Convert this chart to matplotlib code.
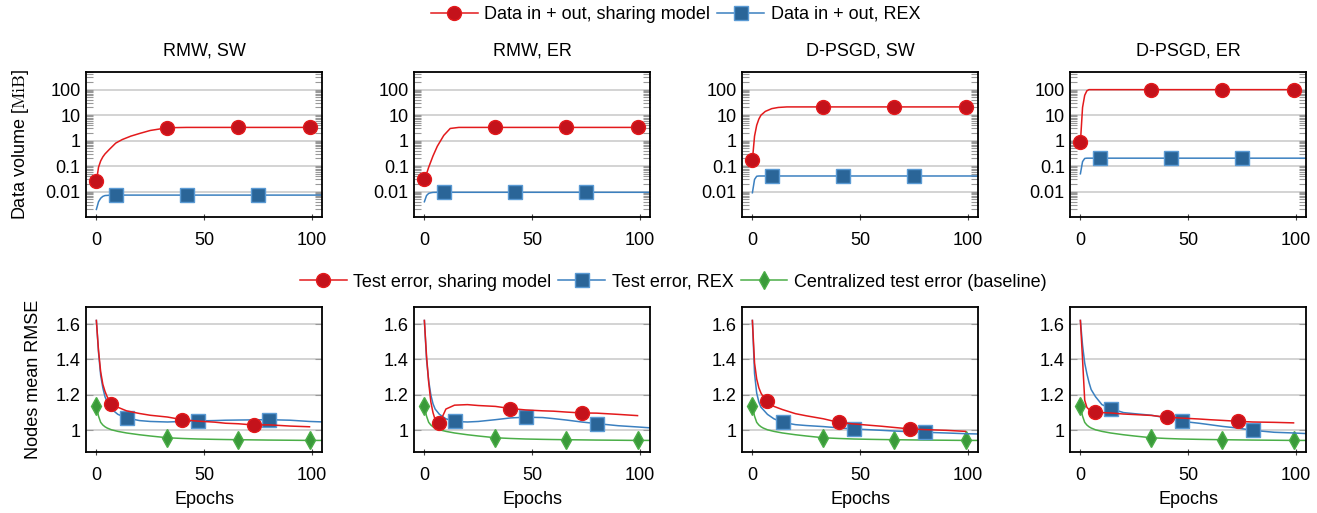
import matplotlib
matplotlib.use("Agg")
import matplotlib.pyplot as plt
from matplotlib.lines import Line2D
from matplotlib.ticker import LogLocator, NullFormatter, FixedLocator

plt.rcParams['font.family'] = ['Liberation Sans', 'DejaVu Sans']
plt.rcParams['mathtext.fontset'] = 'cm'
plt.rcParams['font.size'] = 13

titles = ["RMW, SW", "RMW, ER", "D-PSGD, SW", "D-PSGD, ER"]

# top row: data volume (MiB) per epoch
epochs_top = [0, 1, 2, 3, 4, 6, 9, 12, 16, 20, 25, 33, 42, 50, 66, 75, 99, 106]
vol_share = [
    [0.025, 0.09, 0.16, 0.23, 0.3, 0.45, 0.8, 1.1, 1.5, 1.9, 2.5, 3.2, 3.3, 3.3, 3.3, 3.3, 3.3],
    [0.03, 0.05, 0.09, 0.15, 0.25, 0.6, 1.6, 3.0, 3.3, 3.3, 3.3, 3.3, 3.3, 3.3, 3.3, 3.3, 3.3],
    [0.17, 1.5, 4, 7, 10, 14, 18, 20, 21, 21, 21, 21, 21, 21, 21, 21, 21],
    [0.85, 20, 60, 90, 100, 100, 100, 100, 100, 100, 100, 100, 100, 100, 100, 100, 100],
]
vol_rex = [
    [0.002, 0.004, 0.0055, 0.0065, 0.007, 0.0072, 0.0073, 0.0073, 0.0073, 0.0073, 0.0073, 0.0073,
     0.0073, 0.0073, 0.0073, 0.0073, 0.0073, 0.0073],
    [0.004, 0.007, 0.0085, 0.009, 0.0093, 0.0094, 0.0094, 0.0094, 0.0094, 0.0094, 0.0094, 0.0094,
     0.0094, 0.0094, 0.0094, 0.0094, 0.0094, 0.0094],
    [0.009, 0.03, 0.04, 0.041, 0.041, 0.041, 0.041, 0.041, 0.041, 0.041, 0.041, 0.041,
     0.041, 0.041, 0.041, 0.041, 0.041, 0.041],
    [0.05, 0.15, 0.2, 0.205, 0.205, 0.205, 0.205, 0.205, 0.205, 0.205, 0.205, 0.205,
     0.205, 0.205, 0.205, 0.205, 0.205, 0.205],
]

# bottom row: mean RMSE per epoch
epochs_bot = [0, 1, 2, 3, 4, 5, 7, 10, 14, 20, 25, 33, 40, 47, 55, 60, 66, 73, 80, 90, 99, 106]
err_share = [
    [1.62, 1.45, 1.33, 1.26, 1.22, 1.19, 1.15, 1.13, 1.11, 1.095, 1.085, 1.075, 1.06, 1.052,
     1.046, 1.04, 1.037, 1.03, 1.031, 1.024, 1.02],
    [1.62, 1.42, 1.27, 1.16, 1.10, 1.06, 1.04, 1.12, 1.142, 1.145, 1.14, 1.135, 1.123, 1.115,
     1.11, 1.108, 1.103, 1.098, 1.097, 1.09, 1.083],
    [1.62, 1.38, 1.29, 1.24, 1.21, 1.19, 1.164, 1.135, 1.117, 1.094, 1.082, 1.065, 1.045, 1.036,
     1.028, 1.023, 1.016, 1.008, 1.004, 1.0, 0.994],
    [1.62, 1.40, 1.17, 1.13, 1.117, 1.11, 1.104, 1.10, 1.098, 1.092, 1.089, 1.084, 1.074, 1.069,
     1.064, 1.06, 1.056, 1.051, 1.047, 1.045, 1.042],
]
err_rex = [
    [1.62, 1.44, 1.31, 1.24, 1.19, 1.16, 1.12, 1.09, 1.07, 1.055, 1.05, 1.047, 1.05, 1.053,
     1.055, 1.057, 1.058, 1.059, 1.06, 1.057, 1.05, 1.047],
    [1.62, 1.40, 1.28, 1.20, 1.15, 1.12, 1.09, 1.065, 1.05, 1.047, 1.05, 1.06, 1.07, 1.074,
     1.072, 1.066, 1.058, 1.047, 1.038, 1.026, 1.019, 1.013],
    [1.62, 1.32, 1.21, 1.16, 1.13, 1.117, 1.09, 1.065, 1.045, 1.032, 1.027, 1.021, 1.014, 1.008,
     1.003, 1.0, 0.996, 0.992, 0.989, 0.985, 0.981, 0.979],
    [1.62, 1.48, 1.38, 1.32, 1.27, 1.23, 1.19, 1.145, 1.123, 1.10, 1.094, 1.085, 1.07, 1.051,
     1.04, 1.032, 1.022, 1.013, 1.0, 0.989, 0.985, 0.981],
]
err_base = [1.136, 1.08, 1.045, 1.03, 1.02, 1.013, 1.003, 0.994, 0.985, 0.975, 0.968, 0.958,
            0.954, 0.951, 0.949, 0.948, 0.947, 0.946, 0.945, 0.944, 0.943, 0.943]

red, red_m = "#e31a1c", "#c4121b"
blue, blue_m, blue_e = "#3b80c0", "#2a6598", "#5a9ad4"
green, green_m = "#4bae48", "#3a9a3a"
LW = 1.1


def mark_idx(epochs, marks):
    return [epochs.index(m) for m in marks]


def style_axes(ax):
    ax.set_xlim(-5, 105)
    ax.xaxis.set_major_locator(FixedLocator([0, 50, 100]))
    ax.tick_params(axis='x', direction='inout', length=5, width=0.8, color='#444444',
                   top=False, pad=8)
    ax.tick_params(axis='y', which='both', direction='in', left=True, right=True, color='#999999')
    ax.grid(axis='y', which='major', color='#cccccc', linewidth=1.2)
    ax.set_axisbelow(True)
    for s in ax.spines.values():
        s.set_linewidth(1.3)


fig, axes = plt.subplots(2, 4, figsize=(13.17, 5.13), dpi=100)
fig.subplots_adjust(left=0.065, right=0.992, top=0.86, bottom=0.118, wspace=0.385, hspace=0.62)

for i in range(4):
    ax = axes[0, i]
    n = len(vol_share[i])
    ax.plot(epochs_top[:n], vol_share[i], color=red, lw=LW, marker='o', ms=10,
            mfc=red_m, mec=red, markevery=mark_idx(epochs_top, [0, 33, 66, 99]))
    ax.plot(epochs_top, vol_rex[i], color=blue, lw=LW, marker='s', ms=9.5,
            mfc=blue_m, mec=blue_e, markevery=mark_idx(epochs_top, [9, 42, 75]))
    ax.set_yscale('log')
    ax.set_ylim(1e-3, 5e2)
    ax.yaxis.set_major_locator(FixedLocator([0.01, 0.1, 1, 10, 100]))
    ax.set_yticklabels(["0.01", "0.1", "1", "10", "100"])
    ax.yaxis.set_minor_locator(LogLocator(base=10, subs=range(2, 10), numticks=20))
    ax.yaxis.set_minor_formatter(NullFormatter())
    style_axes(ax)
    ax.tick_params(axis='y', which='major', length=5)
    ax.tick_params(axis='y', which='minor', length=5, width=0.8)
    ax.set_title(titles[i], fontsize=13, pad=12)

    ax = axes[1, i]
    n = len(err_share[i])
    ax.plot(epochs_bot, err_base, color=green, lw=LW, marker='d', ms=9,
            mfc=green_m, mec=green, markevery=mark_idx(epochs_bot, [0, 33, 66, 99]))
    ax.plot(epochs_bot, err_rex[i], color=blue, lw=LW, marker='s', ms=9.5,
            mfc=blue_m, mec=blue_e, markevery=mark_idx(epochs_bot, [14, 47, 80]))
    ax.plot(epochs_bot[:n], err_share[i], color=red, lw=LW, marker='o', ms=10,
            mfc=red_m, mec=red, markevery=mark_idx(epochs_bot, [7, 40, 73]))
    ax.set_ylim(0.875, 1.695)
    ax.yaxis.set_major_locator(FixedLocator([1.0, 1.2, 1.4, 1.6]))
    ax.set_yticklabels(["1", "1.2", "1.4", "1.6"])
    style_axes(ax)
    ax.tick_params(axis='y', which='major', length=5)
    ax.set_xlabel("Epochs", fontsize=13, labelpad=5)

axes[0, 0].set_ylabel(r"Data volume [$\mathrm{MiB}$]", fontsize=13)
axes[0, 0].yaxis.set_label_coords(-0.23, 0.5)
axes[1, 0].set_ylabel("Nodes mean RMSE", fontsize=13)
axes[1, 0].yaxis.set_label_coords(-0.185, 0.5)

top_handles = [
    Line2D([], [], color=red, lw=LW, marker='o', ms=10, mfc=red_m, mec=red),
    Line2D([], [], color=blue, lw=LW, marker='s', ms=9.5, mfc=blue_m, mec=blue_e),
]
fig.legend(top_handles, ["Data in + out, sharing model", "Data in + out, REX"],
           loc='center', bbox_to_anchor=(0.513, 0.972), ncol=2, frameon=False,
           fontsize=13, handlelength=2.6, columnspacing=0.4, handletextpad=0.35)

bot_handles = [
    Line2D([], [], color=red, lw=LW, marker='o', ms=10, mfc=red_m, mec=red),
    Line2D([], [], color=blue, lw=LW, marker='s', ms=9.5, mfc=blue_m, mec=blue_e),
    Line2D([], [], color=green, lw=LW, marker='d', ms=9, mfc=green_m, mec=green),
]
fig.legend(bot_handles, ["Test error, sharing model", "Test error, REX",
                         "Centralized test error (baseline)"],
           loc='center', bbox_to_anchor=(0.511, 0.45), ncol=3, frameon=False,
           fontsize=13, handlelength=2.6, columnspacing=0.4, handletextpad=0.35)

fig.savefig("out.png", dpi=100)
